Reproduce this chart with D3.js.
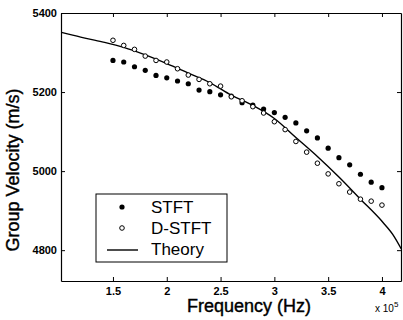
<!DOCTYPE html>
<html>
<head>
<meta charset="utf-8">
<script src="https://cdn.jsdelivr.net/npm/d3@7"></script>
<style>
    body { margin: 0; background: #fff; }
    text { font-family: "Liberation Sans", Arial, sans-serif; fill: #000; }
</style>
</head>
<body>
<div class="chart"></div>
<script>
// Frequencies of the measured points (x 10^5 Hz)
var freqs = [1.5, 1.6, 1.7, 1.8, 1.9, 2.0, 2.1, 2.2, 2.3, 2.4, 2.5, 2.6, 2.7,
             2.8, 2.9, 3.0, 3.1, 3.2, 3.3, 3.4, 3.5, 3.6, 3.7, 3.8, 3.9, 4.0];
// Group velocity from STFT (m/s)
var stft = [5280, 5276, 5264, 5255, 5242, 5236, 5228, 5221, 5205, 5201, 5193, 5190, 5173,
            5167, 5157, 5148, 5136, 5122, 5102, 5084, 5058, 5034, 5016, 4992, 4972, 4958];
// Group velocity from D-STFT (m/s)
var dstft = [5331, 5318, 5308, 5291, 5280, 5276, 5259, 5243, 5232, 5221, 5215, 5188, 5178,
             5163, 5147, 5125, 5105, 5075, 5048, 5020, 4993, 4968, 4947, 4929, 4924, 4914];
// Theoretical dispersion curve
var theoryFreqs = [1.02, 1.2, 1.4, 1.6, 1.8, 2.0, 2.2, 2.4, 2.6, 2.8, 3.0, 3.2, 3.4, 3.6, 3.8, 4.0, 4.1, 4.18];
var theoryVel = [5351, 5339, 5327, 5313, 5294, 5272, 5248, 5224, 5192, 5166, 5133, 5085, 5037, 4985, 4929, 4873, 4840, 4803];

// Tick labels
var xTicks = [1.5, 2, 2.5, 3, 3.5, 4];
var xTickLabels = ["1.5", "2", "2.5", "3", "3.5", "4"];
var yTicks = [4800, 5000, 5200, 5400];
var legendNames = ["STFT", "D-STFT", "Theory"];

var width = 403;
var height = 320;
var padding = {left: 61, right: 2, top: 13, bottom: 39};
var plotW = width - padding.left - padding.right;
var plotH = height - padding.top - padding.bottom;

var svg = d3.select(".chart")
    .append("svg")
    .attr("width", width)
    .attr("height", height);

var xScale = d3.scaleLinear()
    .domain([1.017, 4.177])
    .range([0, plotW]);
var yScale = d3.scaleLinear()
    .domain([4722, 5400])
    .range([plotH, 0]);

var plot = svg.append("g")
    .attr("transform", "translate(" + padding.left + "," + padding.top + ")");

// Axes, ticks pointing inward on all four sides
var xAxis = d3.axisBottom(xScale).tickValues(xTicks)
    .tickFormat(function(d, i) { return xTickLabels[i]; })
    .tickSizeInner(-4).tickSizeOuter(0).tickPadding(6);
var yAxis = d3.axisLeft(yScale).tickValues(yTicks)
    .tickFormat(d3.format("d"))
    .tickSizeInner(-4).tickSizeOuter(0).tickPadding(4);

plot.append("g")
    .attr("transform", "translate(0," + plotH + ")")
    .call(xAxis);
plot.append("g").call(yAxis);
plot.append("g")
    .call(d3.axisTop(xScale).tickValues(xTicks).tickFormat("").tickSizeInner(-4).tickSizeOuter(0));
plot.append("g")
    .attr("transform", "translate(" + plotW + ",0)")
    .call(d3.axisRight(yScale).tickValues(yTicks).tickFormat("").tickSizeInner(-4).tickSizeOuter(0));

plot.selectAll(".domain").attr("stroke", "#000").attr("stroke-width", 1.2);
plot.selectAll(".tick line").attr("stroke", "#000");
plot.selectAll(".tick text")
    .attr("font-size", 11)
    .attr("font-weight", "bold")
    .attr("font-family", "'Liberation Sans', Arial, sans-serif");

// Theory curve
var line = d3.line()
    .x(function(d, i) { return xScale(theoryFreqs[i]); })
    .y(function(d) { return yScale(d); })
    .curve(d3.curveMonotoneX);
plot.append("path")
    .datum(theoryVel)
    .attr("d", line)
    .attr("fill", "none")
    .attr("stroke", "#000")
    .attr("stroke-width", 1.4);

// STFT points
plot.selectAll(".stft")
    .data(stft)
    .enter()
    .append("circle")
    .attr("class", "stft")
    .attr("cx", function(d, i) { return xScale(freqs[i]); })
    .attr("cy", function(d) { return yScale(d); })
    .attr("r", 2.6)
    .attr("fill", "#000");

// D-STFT points
plot.selectAll(".dstft")
    .data(dstft)
    .enter()
    .append("circle")
    .attr("class", "dstft")
    .attr("cx", function(d, i) { return xScale(freqs[i]); })
    .attr("cy", function(d) { return yScale(d); })
    .attr("r", 2.3)
    .attr("fill", "#fff")
    .attr("stroke", "#000")
    .attr("stroke-width", 1);

// Legend
var legend = svg.append("g").attr("transform", "translate(96,194)");
legend.append("rect")
    .attr("width", 131).attr("height", 68)
    .attr("fill", "#fff").attr("stroke", "#000").attr("stroke-width", 1);
legend.append("circle").attr("cx", 26).attr("cy", 13).attr("r", 2.6).attr("fill", "#000");
legend.append("circle").attr("cx", 26).attr("cy", 34).attr("r", 2.3)
    .attr("fill", "#fff").attr("stroke", "#000");
legend.append("line").attr("x1", 11).attr("x2", 42).attr("y1", 56).attr("y2", 56)
    .attr("stroke", "#000").attr("stroke-width", 1.4);
legend.selectAll(".lab")
    .data(legendNames)
    .enter()
    .append("text")
    .attr("class", "lab")
    .attr("x", 55)
    .attr("y", function(d, i) { return 19 + i * 21; })
    .attr("font-size", 17)
    .text(function(d) { return d; });

// Axis titles
svg.append("text")
    .attr("x", 249).attr("y", 312)
    .attr("text-anchor", "middle")
    .attr("font-size", 18)
    .attr("stroke", "#000").attr("stroke-width", 0.4)
    .text("Frequency (Hz)");
svg.append("text")
    .attr("transform", "translate(19,170) rotate(-90)")
    .attr("text-anchor", "middle")
    .attr("font-size", 18)
    .attr("stroke", "#000").attr("stroke-width", 0.4)
    .text("Group Velocity (m/s)");

// Exponent of the x axis
var expo = svg.append("text")
    .attr("x", 375).attr("y", 312)
    .attr("font-size", 10);
expo.append("tspan").text("x 10");
expo.append("tspan").attr("dy", -5).attr("font-size", 8).text("5");
</script>
</body>
</html>
